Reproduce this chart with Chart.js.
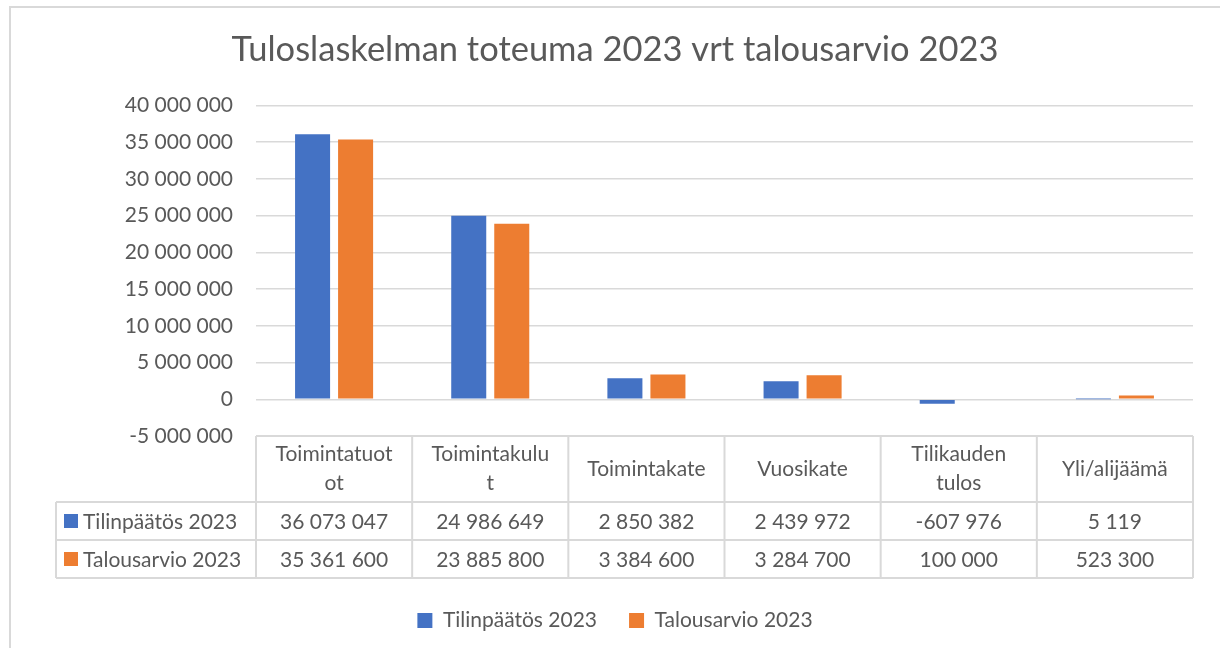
<!DOCTYPE html>
<html>
<head>
<meta charset="utf-8">
<script src="https://cdn.jsdelivr.net/npm/chart.js@4/dist/chart.umd.min.js"></script>
<style>
  html, body { margin: 0; padding: 0; background: #ffffff; }
  #wrap { width: 1220px; height: 648px; position: relative; }
</style>
</head>
<body>
<div id="wrap"><canvas id="c" width="1220" height="648"></canvas></div>
<script>
const titleText = "Tuloslaskelman toteuma 2023 vrt talousarvio 2023";
const categories = [["Toimintatuot", "ot"], ["Toimintakulu", "t"], ["Toimintakate"], ["Vuosikate"], ["Tilikauden", "tulos"], ["Yli/alijäämä"]];
const seriesNames = ["Tilinpäätös 2023", "Talousarvio 2023"];
const tilinpaatos = [36073047, 24986649, 2850382, 2439972, -607976, 5119];
const talousarvio = [35361600, 23885800, 3384600, 3284700, 100000, 523300];
const yTicks = [-5000000, 0, 5000000, 10000000, 15000000, 20000000, 25000000, 30000000, 35000000, 40000000];

const COLORS = ["#4472C4", "#ED7D31"];
const TEXT = "#595959";
const GRID = "#D9D9D9";
const FONT = "Lato, 'Open Sans', sans-serif";

function fmt(n) {
  const s = String(Math.abs(Math.round(n))).replace(/\B(?=(\d{3})+(?!\d))/g, " ");
  return (n < 0 ? "-" : "") + s;
}

const frame = {
  id: "frame",
  beforeDraw(chart) {
    const ctx = chart.ctx;
    ctx.save();
    ctx.fillStyle = "#ffffff";
    ctx.fillRect(0, 0, chart.width, chart.height);
    ctx.strokeStyle = GRID;
    ctx.lineWidth = 2;
    ctx.strokeRect(10, 7, chart.width + 20, chart.height + 20);
    ctx.restore();
  }
};

const dataTable = {
  id: "dataTable",
  afterDraw(chart) {
    const ctx = chart.ctx;
    const area = chart.chartArea;
    const xs = chart.scales.x;
    const n = categories.length;
    const colW = (area.right - area.left) / n;
    const top = area.bottom;
    const headH = 66, rowH = 38;
    const r1 = top + headH, r2 = r1 + rowH, r3 = r2 + rowH;
    const labelLeft = area.left - 200;
    ctx.save();
    ctx.strokeStyle = GRID;
    ctx.lineWidth = 2;
    ctx.beginPath();
    ctx.moveTo(area.left, top); ctx.lineTo(area.right, top);
    [r1, r2, r3].forEach(y => { ctx.moveTo(labelLeft, y); ctx.lineTo(area.right, y); });
    ctx.moveTo(labelLeft, r1); ctx.lineTo(labelLeft, r3);
    for (let i = 0; i <= n; i++) {
      const x = area.left + i * colW;
      ctx.moveTo(x, top); ctx.lineTo(x, r3);
    }
    ctx.stroke();

    ctx.fillStyle = TEXT;
    ctx.font = "21px " + FONT;
    ctx.textAlign = "center";
    ctx.textBaseline = "middle";
    categories.forEach((lines, i) => {
      const cx = xs.getPixelForValue(i);
      const lh = 29;
      const startY = top + headH / 2 - (lines.length - 1) * lh / 2;
      lines.forEach((t, k) => ctx.fillText(t, cx, startY + k * lh));
      ctx.fillText(fmt(tilinpaatos[i]), cx, r1 + rowH / 2 + 1);
      ctx.fillText(fmt(talousarvio[i]), cx, r2 + rowH / 2 + 1);
    });
    [r1, r2].forEach((y, k) => {
      ctx.fillStyle = COLORS[k];
      ctx.fillRect(labelLeft + 8, y + rowH / 2 - 7, 14, 14);
      ctx.fillStyle = TEXT;
      ctx.textAlign = "left";
      ctx.fillText(seriesNames[k], labelLeft + 27, y + rowH / 2 + 1);
    });
    ctx.restore();
  }
};

new Chart(document.getElementById("c"), {
  type: "bar",
  data: {
    labels: categories,
    datasets: [
      { label: seriesNames[0], data: tilinpaatos, backgroundColor: COLORS[0], categoryPercentage: 0.551, barPercentage: 0.814 },
      { label: seriesNames[1], data: talousarvio, backgroundColor: COLORS[1], categoryPercentage: 0.551, barPercentage: 0.814 }
    ]
  },
  options: {
    responsive: false,
    animation: false,
    devicePixelRatio: 1,
    layout: { padding: { left: 37, right: 27, top: 0, bottom: 7 } },
    plugins: {
      title: {
        display: true,
        text: titleText,
        color: TEXT,
        font: { family: FONT, size: 34.5, weight: "normal" },
        padding: { top: 29, bottom: 35 }
      },
      legend: {
        display: true,
        position: "bottom",
        labels: {
          color: TEXT,
          font: { family: FONT, size: 21 },
          boxWidth: 15,
          boxHeight: 15,
          padding: 32
        }
      },
      tooltip: { enabled: false }
    },
    scales: {
      x: {
        display: true,
        grid: { display: false },
        border: { display: false },
        ticks: { display: false },
        afterFit(scale) { scale.height = 142; }
      },
      y: {
        min: -5000000,
        max: 40000000,
        afterBuildTicks(scale) { scale.ticks = yTicks.map(v => ({ value: v })); },
        ticks: {
          color: TEXT,
          font: { family: FONT, size: 21 },
          padding: 23,
          callback: v => fmt(v)
        },
        grid: { color: GRID, lineWidth: 1.5, drawTicks: false },
        border: { display: false },
        afterFit(scale) { scale.width = 219; }
      }
    }
  },
  plugins: [frame, dataTable]
});
</script>
</body>
</html>
